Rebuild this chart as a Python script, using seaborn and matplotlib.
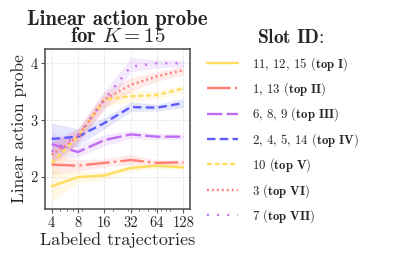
import numpy as np
import pandas as pd
import matplotlib
matplotlib.use("Agg")
import matplotlib.pyplot as plt
import seaborn as sns

sns.set_style("white")
plt.rcParams["font.family"] = ["cmr10", "DejaVu Serif"]
plt.rcParams["mathtext.fontset"] = "cm"
plt.rcParams["axes.unicode_minus"] = False
plt.rcParams["axes.formatter.use_mathtext"] = True

x_vals = [4, 8, 16, 32, 64, 128]
labels = [
    r"11, 12, 15 ($\mathbf{top\ I}$)",
    r"1, 13 ($\mathbf{top\ II}$)",
    r"6, 8, 9 ($\mathbf{top\ III}$)",
    r"2, 4, 5, 14 ($\mathbf{top\ IV}$)",
    r"10 ($\mathbf{top\ V}$)",
    r"3 ($\mathbf{top\ VI}$)",
    r"7 ($\mathbf{top\ VII}$)",
]
top1 = [1.84, 2.00, 2.03, 2.16, 2.20, 2.17]
top2 = [2.22, 2.20, 2.25, 2.30, 2.25, 2.26]
top3 = [2.58, 2.44, 2.65, 2.75, 2.71, 2.71]
top4 = [2.67, 2.71, 2.95, 3.23, 3.22, 3.30]
top5 = [2.25, 2.71, 3.36, 3.42, 3.44, 3.56]
top6 = [2.39, 2.71, 3.36, 3.62, 3.77, 3.88]
top7 = [2.45, 2.74, 3.36, 3.94, 4.00, 4.00]

low1 = [1.57, 1.90, 1.95, 2.10, 2.15, 2.13]
up1 = [2.10, 2.10, 2.10, 2.22, 2.25, 2.22]
low2 = [2.05, 2.10, 2.18, 2.22, 2.20, 2.22]
up2 = [2.40, 2.30, 2.32, 2.40, 2.30, 2.30]
low3 = [2.35, 2.35, 2.55, 2.68, 2.66, 2.66]
up3 = [2.80, 2.55, 2.75, 2.82, 2.76, 2.76]
low4 = [2.40, 2.55, 2.85, 3.15, 3.16, 3.22]
up4 = [2.95, 2.85, 3.05, 3.32, 3.28, 3.38]
low5 = [2.00, 2.60, 3.25, 3.32, 3.37, 3.50]
up5 = [2.50, 2.85, 3.45, 3.52, 3.52, 3.62]
low6 = [2.20, 2.60, 3.20, 3.50, 3.68, 3.80]
up6 = [2.60, 2.85, 3.50, 3.75, 3.85, 3.95]
low7 = [2.25, 2.60, 3.20, 3.85, 3.92, 3.94]
up7 = [2.65, 2.85, 3.50, 4.10, 4.06, 4.06]

means = [top1, top2, top3, top4, top5, top6, top7]
lows = [low1, low2, low3, low4, low5, low6, low7]
ups = [up1, up2, up3, up4, up5, up6, up7]

colors = ["#ffdc5c", "#ff7f74", "#bf6cf2", "#5c5cf8", "#ffdc5c", "#ff7f74", "#bf6cf2"]
dash_list = ["", (10, 1.8, 1, 1.8), (6.5, 1.8), (3.6, 1.8), (2, 1.3), (0.8, 1.3), (0.8, 3.5)]

rows = []
for lab, m in zip(labels, means):
    for xv, yv in zip(x_vals, m):
        rows.append({"x": xv, "y": yv, "slot": lab})
df = pd.DataFrame(rows)

fig = plt.figure(figsize=(3.97, 2.61), dpi=100)
ax = fig.add_axes([45 / 397, 1 - 209 / 261, 145 / 397, 160 / 261])

for lab, lo, hi, c in zip(labels, lows, ups, colors):
    ax.fill_between(x_vals, lo, hi, color=c, alpha=0.15, linewidth=0)

sns.lineplot(data=df, x="x", y="y", hue="slot", style="slot",
             palette=dict(zip(labels, colors)), dashes=dict(zip(labels, dash_list)),
             hue_order=labels, style_order=labels, linewidth=1.7, ax=ax, legend="full")

ax.set_xscale("log")
ax.set_xticks(x_vals)
ax.set_xticklabels([str(v) for v in x_vals])
ax.set_yticks([2, 3, 4])
ax.set_yticklabels(["2", "3", "4"])
ax.set_xlim(3.36, 152)
ax.set_ylim(1.44, 4.25)
ax.grid(True, which="major", linestyle="--", color="#e4e4e4", linewidth=0.6)
for s in ax.spines.values():
    s.set_color("#555555")
    s.set_linewidth(1.2)
ax.tick_params(axis="both", which="major", direction="out", length=3, width=0.8,
               color="#555555", labelsize=10.5, pad=2, bottom=True, left=True)
ax.tick_params(axis="x", which="minor", direction="out", length=1.5, width=0.6,
               color="#555555", bottom=True)
ax.set_xlabel("Labeled trajectories", fontsize=13, labelpad=2)
ax.set_ylabel("Linear action probe", fontsize=12.5, labelpad=3)
ax.set_title("Linear action probe\nfor $K = 15$", fontsize=15, family="cmb10",
             linespacing=0.88, pad=5)

handles, labs = ax.get_legend_handles_labels()
leg = ax.legend(handles, labs, title=r"$\mathbf{Slot\ ID}$:", loc="upper left",
                bbox_to_anchor=(202 / 397, 1 - 24 / 261), bbox_transform=fig.transFigure,
                frameon=False, fontsize=9.2, title_fontsize=14, handlelength=2.4,
                handletextpad=1.1, labelspacing=0.6, borderaxespad=0)
leg.get_title().set_position((8, 0))

fig.savefig("out.png", dpi=100)
